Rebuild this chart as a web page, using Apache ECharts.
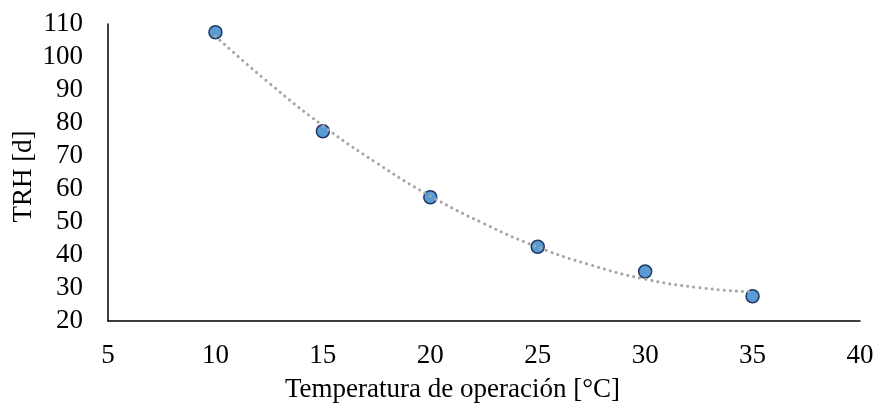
<!DOCTYPE html>
<html>
<head>
<meta charset="utf-8">
<script src="https://cdn.jsdelivr.net/npm/echarts@6/dist/echarts.min.js"></script>
<style>
  html, body { margin: 0; padding: 0; background: #fff; }
  #chart { width: 876px; height: 403px; }
</style>
</head>
<body>
<div id="chart"></div>
<script>
// Operating temperature (°C) vs. hydraulic retention time (days)
const temperatures = [10, 15, 20, 25, 30, 35];
const trhValues = [107.5, 77.5, 57.5, 42.5, 35, 27.5];

// Second-order trend curve values
const trendX = [10, 12.5, 15, 17.5, 20, 22.5, 25, 27.5, 30, 32.5, 35];
const trendY = [106.3, 92.1, 79.2, 67.9, 57.9, 49.5, 42.4, 36.9, 32.7, 30.1, 28.8];

const xTicks = { min: 5, max: 40, step: 5 };
const yTicks = { min: 20, max: 110, step: 10 };

const pointData = temperatures.map((t, i) => [t, trhValues[i]]);
const trendData = trendX.map((t, i) => [t, trendY[i]]);

const serif = '"Liberation Serif", "Times New Roman", serif';
const fontSize = 27;

const chart = echarts.init(document.getElementById('chart'), null, { renderer: 'canvas' });
chart.setOption({
  animation: false,
  backgroundColor: '#ffffff',
  grid: { left: 108, right: 16, top: 24, bottom: 82, containLabel: false, outerBoundsMode: 'none' },
  xAxis: {
    type: 'value',
    min: xTicks.min, max: xTicks.max, interval: xTicks.step,
    name: 'Temperatura de operación [°C]',
    nameLocation: 'middle',
    nameGap: 55,
    nameMoveOverlap: false,
    nameTextStyle: { fontFamily: serif, fontSize: fontSize, color: '#000', padding: [0, 63, 0, 0] },
    axisLine: { lineStyle: { color: '#000', width: 1.5 } },
    axisTick: { show: false },
    axisLabel: { fontFamily: serif, fontSize: fontSize, color: '#000', margin: 21 },
    splitLine: { show: false }
  },
  yAxis: {
    type: 'value',
    min: yTicks.min, max: yTicks.max, interval: yTicks.step,
    name: 'TRH [d]',
    nameLocation: 'middle',
    nameGap: 71,
    nameMoveOverlap: false,
    nameTextStyle: { fontFamily: serif, fontSize: fontSize, color: '#000', padding: [0, 8, 0, 0] },
    axisLine: { show: true, lineStyle: { color: '#000', width: 1.5 } },
    axisTick: { show: false },
    axisLabel: { fontFamily: serif, fontSize: fontSize, color: '#000', margin: 25 },
    splitLine: { show: false }
  },
  series: [
    {
      name: 'TRH',
      type: 'scatter',
      data: pointData,
      symbol: 'circle',
      symbolSize: 13,
      itemStyle: { color: '#5b9bd5', borderColor: '#1f3864', borderWidth: 1.5, opacity: 1 },
      z: 2
    },
    {
      name: 'Tendencia',
      type: 'line',
      data: trendData,
      smooth: true,
      showSymbol: false,
      lineStyle: { color: '#a5a5a5', width: 3, type: [0.1, 6], cap: 'round' },
      z: 3
    }
  ]
});
</script>
</body>
</html>
